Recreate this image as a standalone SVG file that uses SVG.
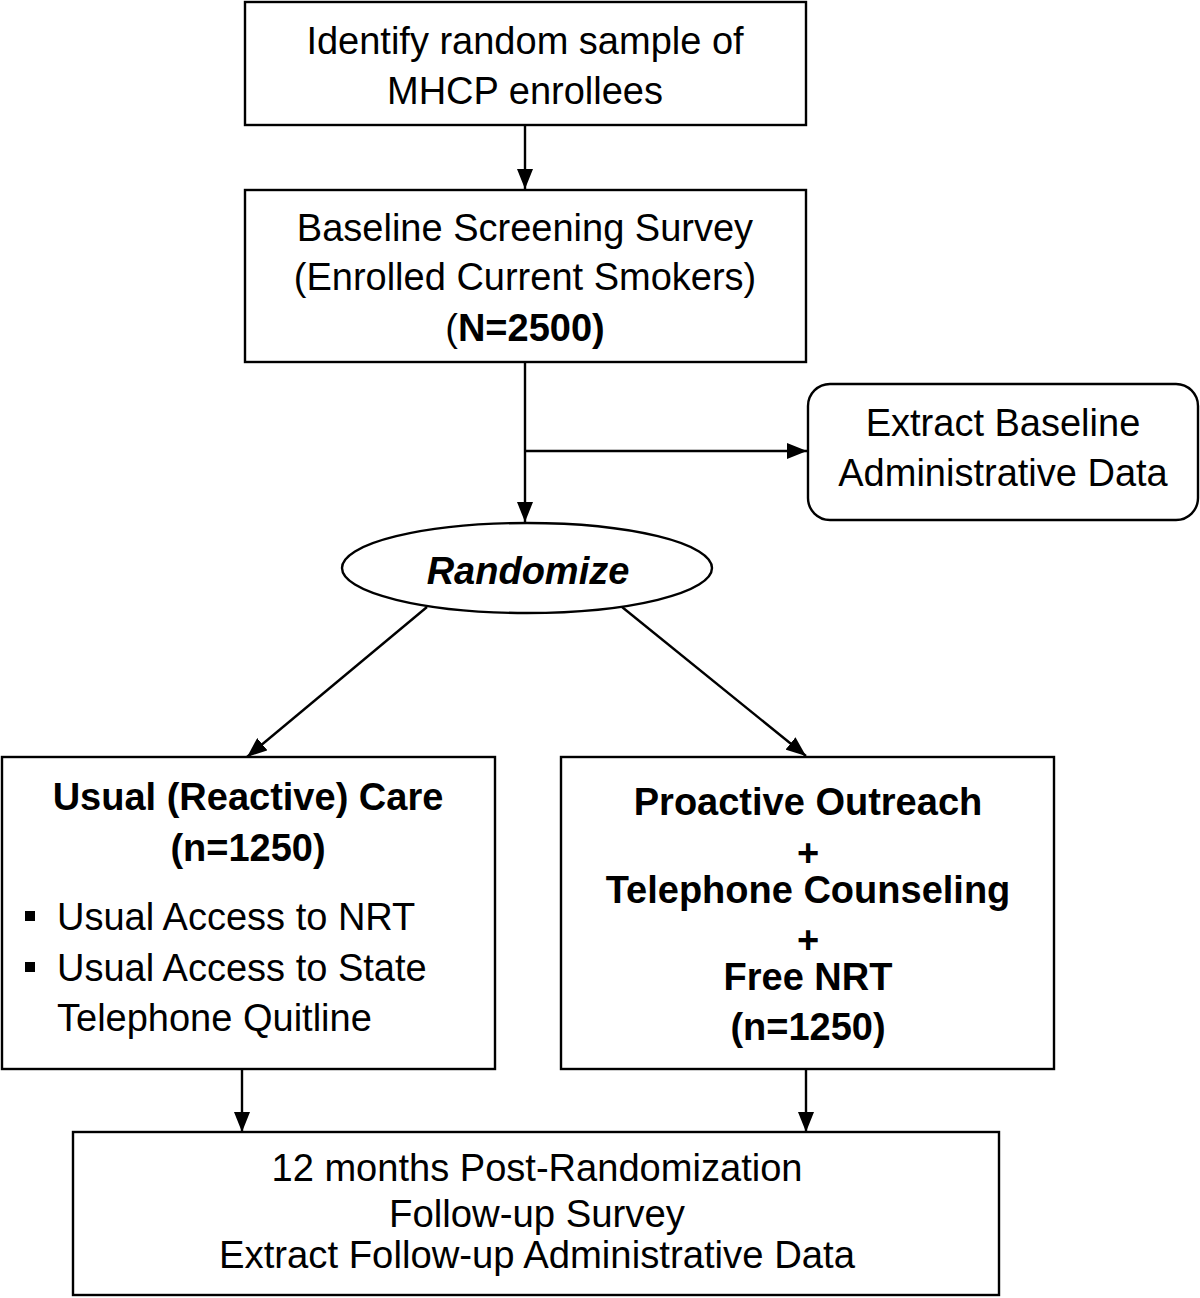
<svg xmlns="http://www.w3.org/2000/svg" width="1200" height="1298" viewBox="0 0 1200 1298">
<style>
.box{fill:#fff;stroke:#000;stroke-width:2.4}
.t{font-family:"Liberation Sans",Arial,sans-serif;font-size:38px;fill:#000;text-anchor:middle}
.l{font-family:"Liberation Sans",Arial,sans-serif;font-size:38px;fill:#000;text-anchor:start}
.b{font-weight:bold}
.c{stroke:#000;stroke-width:2.4;fill:none}
</style>
<defs>
<marker id="ah" markerWidth="20" markerHeight="16" refX="20" refY="8" orient="auto" markerUnits="userSpaceOnUse">
<path d="M0,0 L20,8 L0,16 Z" fill="#000"/>
</marker>
</defs>
<rect width="1200" height="1298" fill="#fff"/>
<g id="connectors">
<line class="c" x1="525" y1="125" x2="525" y2="189" marker-end="url(#ah)"/>
<line class="c" x1="525" y1="362" x2="525" y2="522" marker-end="url(#ah)"/>
<line class="c" x1="525" y1="451" x2="807" y2="451" marker-end="url(#ah)"/>
<line class="c" x1="427" y1="607" x2="247" y2="757" marker-end="url(#ah)"/>
<line class="c" x1="622" y1="607" x2="806" y2="756" marker-end="url(#ah)"/>
<line class="c" x1="242" y1="1069" x2="242" y2="1132" marker-end="url(#ah)"/>
<line class="c" x1="806" y1="1069" x2="806" y2="1132" marker-end="url(#ah)"/>
</g>
<g id="n1">
<rect class="box" x="245" y="2" width="561" height="123"/>
<text class="t" x="525" y="54">Identify random sample of</text>
<text class="t" x="525" y="104">MHCP enrollees</text>
</g>
<g id="n2">
<rect class="box" x="245" y="190" width="561" height="172"/>
<text class="t" x="525" y="241">Baseline Screening Survey</text>
<text class="t" x="525" y="290">(Enrolled Current Smokers)</text>
<text class="t" x="525" y="341">(<tspan class="b">N=2500)</tspan></text>
</g>
<g id="n3">
<rect class="box" x="808" y="384" width="390" height="136" rx="22"/>
<text class="t" x="1003" y="436">Extract Baseline</text>
<text class="t" x="1003" y="486">Administrative Data</text>
</g>
<g id="n4">
<ellipse class="box" cx="527" cy="568" rx="185" ry="45"/>
<text class="t b" x="528" y="584" font-style="italic" font-size="42">Randomize</text>
</g>
<g id="n5">
<rect class="box" x="2" y="757" width="493" height="312"/>
<text class="t b" x="248" y="810">Usual (Reactive) Care</text>
<text class="t b" x="248" y="861">(n=1250)</text>
<rect x="25" y="911" width="10" height="10" fill="#000"/>
<text class="l" x="57" y="930">Usual Access to NRT</text>
<rect x="25" y="962" width="10" height="10" fill="#000"/>
<text class="l" x="57" y="981">Usual Access to State</text>
<text class="l" x="57" y="1031">Telephone Quitline</text>
</g>
<g id="n6">
<rect class="box" x="561" y="757" width="493" height="312"/>
<text class="t b" x="808" y="815">Proactive Outreach</text>
<text class="t b" x="808" y="866">+</text>
<text class="t b" x="808" y="903">Telephone Counseling</text>
<text class="t b" x="808" y="953">+</text>
<text class="t b" x="808" y="990">Free NRT</text>
<text class="t b" x="808" y="1040">(n=1250)</text>
</g>
<g id="n7">
<rect class="box" x="73" y="1132" width="926" height="163"/>
<text class="t" x="537" y="1181" textLength="531" lengthAdjust="spacingAndGlyphs">12 months Post-Randomization</text>
<text class="t" x="537" y="1227" textLength="296" lengthAdjust="spacingAndGlyphs">Follow-up Survey</text>
<text class="t" x="537" y="1268" textLength="636" lengthAdjust="spacingAndGlyphs">Extract Follow-up Administrative Data</text>
</g>
</svg>
